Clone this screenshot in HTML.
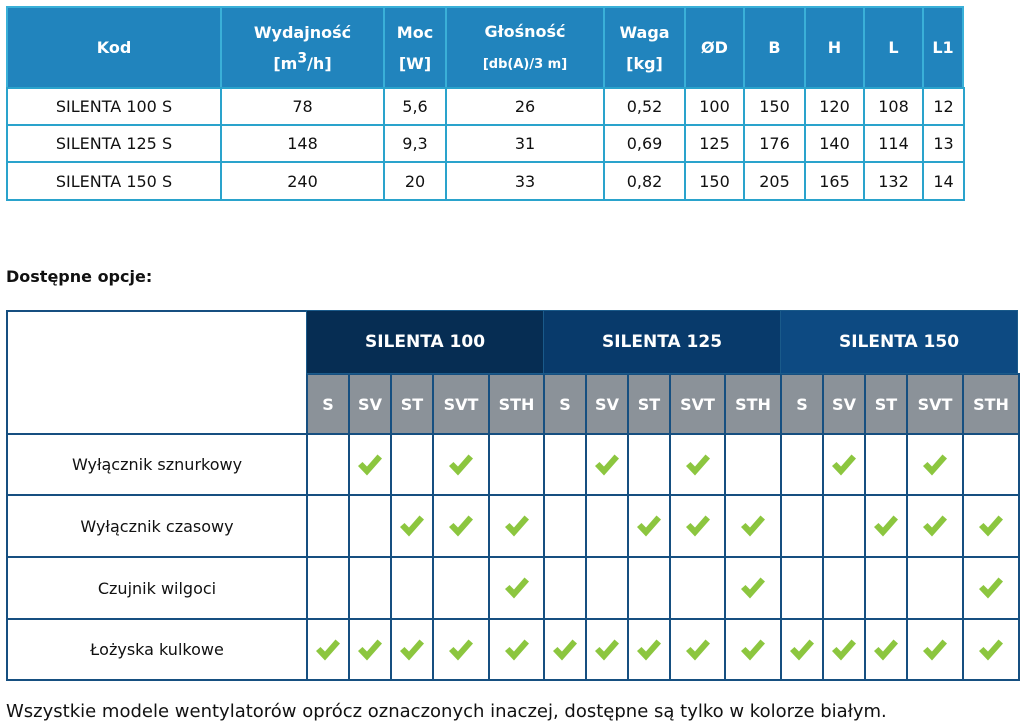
<!DOCTYPE html>
<html><head><meta charset="utf-8"><style>
body{margin:0;width:1023px;height:727px;background:#fff;position:relative;overflow:hidden;font-family:"DejaVu Sans","Liberation Sans",sans-serif;color:#111}
.c{position:absolute;box-sizing:border-box;display:flex;align-items:center;justify-content:center;text-align:center}
.h{background:#2184bd;color:#fff;font-weight:bold;font-size:16px;line-height:31px;border:2px solid #3ab0d8}
.d{border:2px solid #2aa3cc;font-size:16px;background:#fff}
.g{color:#fff;font-weight:bold;font-size:17px;border:1px solid #1a5a8a}
.s{background:#8b9299;color:#fff;font-weight:bold;font-size:16px;border:2px solid #164f80}
.b{border:2px solid #164f80;font-size:16px;background:#fff}
</style></head><body>
<div class="c h" style="left:6px;top:6px;width:216px;height:83px"><span>Kod</span></div>
<div class="c h" style="left:220px;top:6px;width:165px;height:83px"><span>Wydajność<br>[m<sup style="font-size:14px;line-height:0">3</sup>/h]</span></div>
<div class="c h" style="left:383px;top:6px;width:64px;height:83px"><span>Moc<br>[W]</span></div>
<div class="c h" style="left:445px;top:6px;width:160px;height:83px"><span>Głośność<br><span style="font-size:13px">[db(A)/3 m]</span></span></div>
<div class="c h" style="left:603px;top:6px;width:83px;height:83px"><span>Waga<br>[kg]</span></div>
<div class="c h" style="left:684px;top:6px;width:61px;height:83px"><span>ØD</span></div>
<div class="c h" style="left:743px;top:6px;width:63px;height:83px"><span>B</span></div>
<div class="c h" style="left:804px;top:6px;width:61px;height:83px"><span>H</span></div>
<div class="c h" style="left:863px;top:6px;width:61px;height:83px"><span>L</span></div>
<div class="c h" style="left:922px;top:6px;width:42px;height:83px"><span>L1</span></div>

<div id="rows"></div>

<div style="position:absolute;left:6px;top:267px;font-weight:bold;font-size:16px">Dostępne opcje:</div>

<div class="c b" style="left:6px;top:310px;width:302px;height:125px"></div>
<div class="c g" style="left:306px;top:310px;width:238px;height:64px;background:#062d53">SILENTA 100</div>
<div class="c g" style="left:543px;top:310px;width:238px;height:64px;background:#083a6b">SILENTA 125</div>
<div class="c g" style="left:780px;top:310px;width:238px;height:64px;background:#0d4a82">SILENTA 150</div>

<div style="position:absolute;left:6px;top:701px;font-size:18px;white-space:nowrap">Wszystkie modele wentylatorów oprócz oznaczonych inaczej, dostępne są tylko w kolorze białym.</div>

<script>
var X=[6,220,383,445,603,684,743,804,863,922,963],Y=[87,124,161,199];
var data=[["SILENTA 100 S","78","5,6","26","0,52","100","150","120","108","12"],
["SILENTA 125 S","148","9,3","31","0,69","125","176","140","114","13"],
["SILENTA 150 S","240","20","33","0,82","150","205","165","132","14"]];
var h="";
for(var r=0;r<3;r++)for(var i=0;i<10;i++)
h+='<div class="c d" style="left:'+X[i]+'px;top:'+Y[r]+'px;width:'+(X[i+1]-X[i]+2)+'px;height:'+(Y[r+1]-Y[r]+2)+'px">'+data[r][i]+'</div>';
var CX=[306,348,390,432,488,543,585,627,669,724,780,822,864,906,962,1018];
var L=["S","SV","ST","SVT","STH"];
for(var i=0;i<15;i++)h+='<div class="c s" style="left:'+CX[i]+'px;top:373px;width:'+(CX[i+1]-CX[i]+2)+'px;height:62px">'+L[i%5]+'</div>';
var RY=[433,494,556,618,679];
var names=["Wyłącznik sznurkowy","Wyłącznik czasowy","Czujnik wilgoci","Łożyska kulkowe"];
var pat=[[0,1,0,1,0],[0,0,1,1,1],[0,0,0,0,1],[1,1,1,1,1]];
var chk='<svg width="26" height="24" viewBox="0 0 26 24"><path d="M1 13 L5.5 9 L10 13.5 L20.5 1.5 L25 5.5 L10 22.5 Z" fill="#8cc63f"/></svg>';
for(var r=0;r<4;r++){
h+='<div class="c b" style="left:6px;top:'+RY[r]+'px;width:302px;height:'+(RY[r+1]-RY[r]+2)+'px">'+names[r]+'</div>';
for(var i=0;i<15;i++)h+='<div class="c b" style="left:'+CX[i]+'px;top:'+RY[r]+'px;width:'+(CX[i+1]-CX[i]+2)+'px;height:'+(RY[r+1]-RY[r]+2)+'px">'+(pat[r][i%5]?chk:'')+'</div>';}
document.getElementById("rows").outerHTML=h;
</script>
</body></html>
